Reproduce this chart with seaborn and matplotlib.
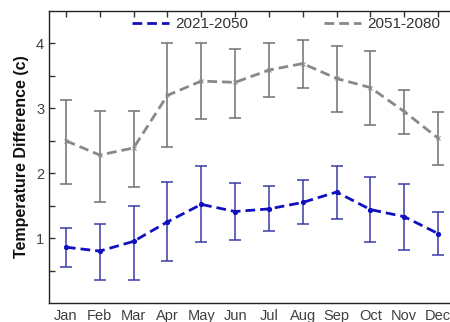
import numpy as np
import pandas as pd
import matplotlib
matplotlib.use("Agg")
import matplotlib.pyplot as plt
import seaborn as sns
from matplotlib.ticker import FixedLocator
from matplotlib.lines import Line2D

months = ["Jan", "Feb", "Mar", "Apr", "May", "Jun", "Jul", "Aug", "Sep", "Oct", "Nov", "Dec"]

mean_2021 = [0.86, 0.80, 0.95, 1.25, 1.52, 1.41, 1.45, 1.55, 1.71, 1.44, 1.33, 1.07]
low_2021 = [0.55, 0.36, 0.36, 0.64, 0.94, 0.97, 1.11, 1.22, 1.30, 0.94, 0.81, 0.74]
high_2021 = [1.16, 1.22, 1.49, 1.87, 2.11, 1.85, 1.81, 1.90, 2.11, 1.94, 1.84, 1.40]

mean_2051 = [2.50, 2.28, 2.39, 3.20, 3.42, 3.40, 3.59, 3.69, 3.46, 3.32, 2.95, 2.54]
low_2051 = [1.84, 1.55, 1.78, 2.41, 2.83, 2.85, 3.18, 3.32, 2.94, 2.74, 2.61, 2.12]
high_2051 = [3.13, 2.96, 2.96, 4.00, 4.01, 3.91, 4.00, 4.05, 3.96, 3.89, 3.29, 2.94]

series_names = ["2021-2050", "2051-2080"]

sns.set_style("white")
plt.rcParams['font.family'] = ['Liberation Sans', 'DejaVu Sans']

fig = plt.figure(figsize=(4.5, 3.22), dpi=100)
ax = fig.add_axes([49/450, 1 - 303/322, 406/450, (303 - 11)/322])

x = np.arange(1, 13)
blue = "#1010c0"
blue_err = "#3a3aa8"
gray = "#888888"
gray_err = "#707070"

ax.errorbar(x, mean_2021,
            yerr=[np.array(mean_2021) - np.array(low_2021), np.array(high_2021) - np.array(mean_2021)],
            fmt="none", ecolor=blue_err, elinewidth=1.1, capsize=4, capthick=1.1, zorder=2)
ax.errorbar(x, mean_2051,
            yerr=[np.array(mean_2051) - np.array(low_2051), np.array(high_2051) - np.array(mean_2051)],
            fmt="none", ecolor=gray_err, elinewidth=1.1, capsize=4, capthick=1.1, zorder=2)

df1 = pd.DataFrame({"x": x, "value": mean_2021})
df2 = pd.DataFrame({"x": x, "value": mean_2051})
sns.lineplot(data=df1, x="x", y="value", color=blue, marker="o", markersize=3,
             markeredgecolor=blue, linewidth=2.0, ax=ax, zorder=3,
             linestyle=(0, (3.5, 1.8)))
sns.lineplot(data=df2, x="x", y="value", color=gray, marker="x", markersize=3.5,
             markeredgecolor=gray, linewidth=2.0, ax=ax, zorder=3,
             linestyle=(0, (3.5, 1.8)))

handles = [Line2D([0], [0], color=blue, lw=2.0, linestyle=(0, (3.5, 1.8))),
           Line2D([0], [0], color=gray, lw=2.0, linestyle=(0, (3.5, 1.8)))]
leg = ax.legend(handles, series_names, ncol=2, loc="center", frameon=False,
                bbox_to_anchor=(286/450, 1 - 24/322), bbox_transform=fig.transFigure,
                columnspacing=5.0, handlelength=2.4, handletextpad=0.4, fontsize=11)
for t in leg.get_texts():
    t.set_color("#333333")

ax.set_xlim(0.5, 12.5)
ax.set_ylim(0, 4.5)
ax.set_xticks(x)
ax.set_xticklabels(months)
ax.yaxis.set_major_locator(FixedLocator([1, 2, 3, 4]))
ax.yaxis.set_minor_locator(FixedLocator([0.5, 1.5, 2.5, 3.5]))
ax.tick_params(axis="both", which="both", direction="in", length=4, width=1, color="#333333",
               labelsize=10.5, labelcolor="#404040")
ax.tick_params(axis="x", top=True, pad=4)
ax.tick_params(axis="y", which="both", left=True, right=False)
ax.set_xlabel("")
ax.set_ylabel("Temperature Difference (c)", fontsize=11.5, fontweight="bold", color="#111111", labelpad=5)

for s in ["left", "bottom", "top"]:
    ax.spines[s].set_color("#222222")
    ax.spines[s].set_linewidth(1.0)
ax.spines["right"].set_visible(False)

fig.savefig("out.png", dpi=100)
